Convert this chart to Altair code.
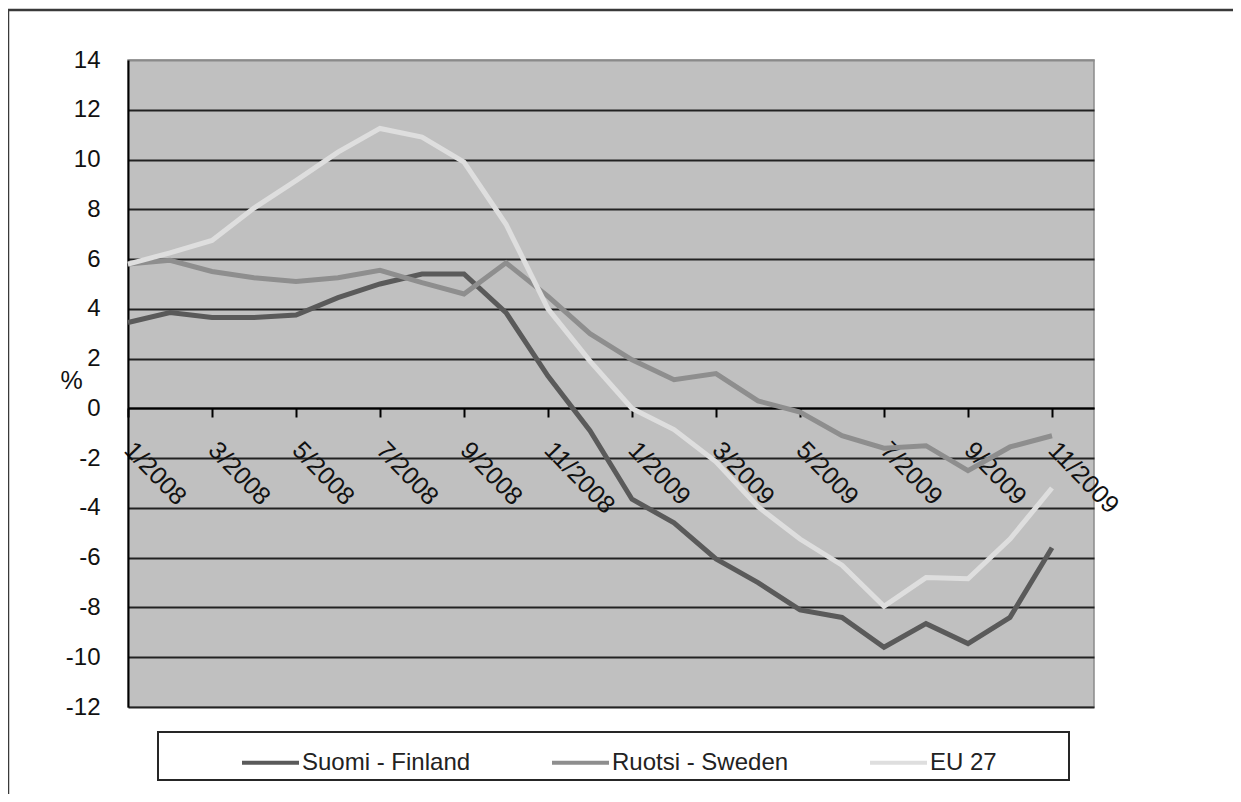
import altair as alt
import pandas as pd

months = ["1/2008", "2/2008", "3/2008", "4/2008", "5/2008", "6/2008", "7/2008", "8/2008",
          "9/2008", "10/2008", "11/2008", "12/2008", "1/2009", "2/2009", "3/2009", "4/2009",
          "5/2009", "6/2009", "7/2009", "8/2009", "9/2009", "10/2009", "11/2009"]
tick_labels = ["1/2008", "3/2008", "5/2008", "7/2008", "9/2008", "11/2008",
               "1/2009", "3/2009", "5/2009", "7/2009", "9/2009", "11/2009"]
series_names = ["Suomi - Finland", "Ruotsi - Sweden", "EU 27"]
finland = [3.45, 3.85, 3.65, 3.65, 3.75, 4.45, 5.0, 5.4, 5.4, 3.85, 1.3, -0.9,
           -3.65, -4.6, -6.05, -7.0, -8.1, -8.4, -9.6, -8.65, -9.45, -8.4, -5.6]
sweden = [5.8, 5.95, 5.5, 5.25, 5.1, 5.25, 5.55, 5.05, 4.6, 5.85, 4.5, 3.0,
          1.95, 1.15, 1.4, 0.3, -0.15, -1.1, -1.6, -1.5, -2.5, -1.55, -1.1]
eu27 = [5.8, 6.25, 6.75, 8.05, 9.15, 10.3, 11.25, 10.9, 9.9, 7.4, 4.0, 1.9,
        0.0, -0.85, -2.15, -3.95, -5.25, -6.3, -7.95, -6.8, -6.85, -5.25, -3.2]
y_ticks = list(range(-12, 15, 2))

rows = []
for name, vals in zip(series_names, [finland, sweden, eu27]):
    for i, (m, v) in enumerate(zip(months, vals)):
        rows.append({"idx": i, "month": m, "series": name, "value": v})
df = pd.DataFrame(rows)

label_expr = "[" + ",".join(f"'{t}'" for t in tick_labels) + "][datum.value/2]"

FONT = "Liberation Sans"

lines = alt.Chart(df).mark_line(strokeWidth=5).encode(
    x=alt.X("idx:Q",
            scale=alt.Scale(domain=[0, 23], nice=False, zero=False),
            axis=alt.Axis(values=list(range(0, 23, 2)), labelExpr=label_expr,
                          title=None, grid=False, offset=-299,
                          domainColor="black", domainWidth=2,
                          tickColor="black", tickWidth=2, tickSize=9,
                          labelAngle=46, labelAlign="left", labelBaseline="top",
                          labelFontSize=25, labelPadding=20, labelOffset=9,
                          labelColor="#111111",
                          labelOverlap=False, labelFlush=False, labelBound=False)),
    y=alt.Y("value:Q",
            scale=alt.Scale(domain=[-12, 14], nice=False, zero=False),
            axis=alt.Axis(values=y_ticks, title="%", titleAngle=0,
                          titleX=-57, titleY=320, titleAlign="center",
                          titleBaseline="middle", titleFontSize=25,
                          titleFontWeight="normal", titleColor="#111111",
                          domainColor="black", domainWidth=2,
                          ticks=False, tickSize=0, labelPadding=28,
                          labelExpr="datum.value + ''",
                          labelFontSize=24, labelColor="#111111",
                          grid=True, gridWidth=2,
                          gridColor={"condition": {"test": "datum.value === 14", "value": "#8a8a8a"},
                                     "value": "#222222"})),
    color=alt.Color("series:N",
                    scale=alt.Scale(domain=series_names,
                                    range=["#5a5a5a", "#8e8e8e", "#dedede"]),
                    legend=alt.Legend(orient="none", legendX=112, legendY=672,
                                      direction="horizontal", title=None,
                                      symbolType="stroke", symbolStrokeWidth=4,
                                      symbolSize=3249, labelOffset=1,
                                      labelFontSize=24, labelColor="#222222",
                                      labelLimit=0,
                                      columnPadding=73, padding=0)),
    order="idx:Q",
)

frame = alt.Chart(pd.DataFrame({"a": [0]})).mark_rect(
    fill=None, stroke="#3a3a3a", strokeWidth=2.5
).encode(x=alt.value(-120), x2=alt.value(1300), y=alt.value(-50), y2=alt.value(900))

legend_box = alt.Chart(pd.DataFrame({"a": [0]})).mark_rect(
    fill="white", stroke="#262626", strokeWidth=2
).encode(x=alt.value(30), x2=alt.value(941), y=alt.value(672), y2=alt.value(720))

chart = alt.layer(frame, legend_box, lines).properties(
    width=966, height=647,
    autosize=alt.AutoSizeParams(type="none"),
    padding={"left": 120, "top": 52, "right": 139, "bottom": 87},
).configure(font=FONT).configure_view(
    fill="#c0c0c0", stroke="#8a8a8a", strokeWidth=1.5
)

chart.save("out.html", embed_options={"renderer": "svg", "actions": False})
